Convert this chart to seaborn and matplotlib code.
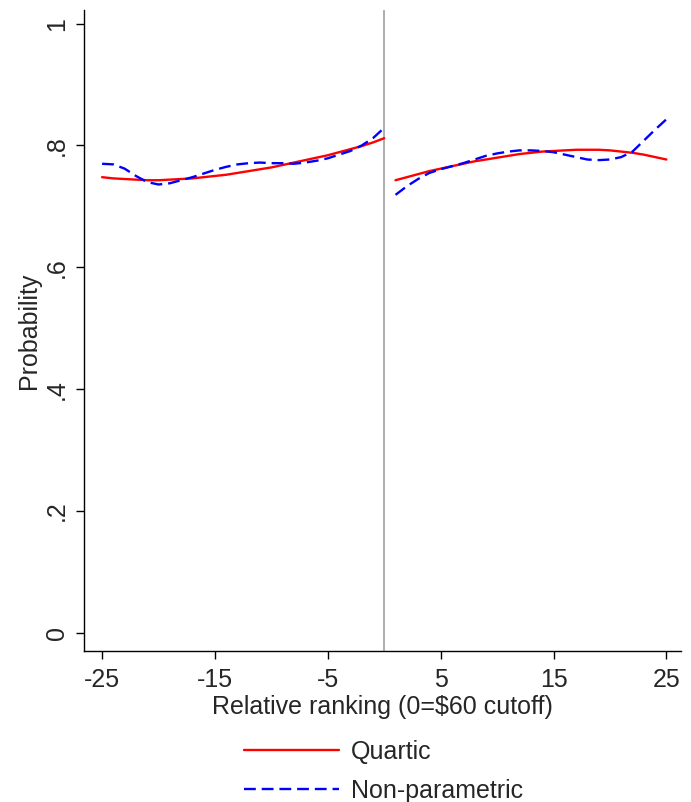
import numpy as np
import pandas as pd
import seaborn as sns
import matplotlib.pyplot as plt
from matplotlib.lines import Line2D

# relative ranking, left and right of the cutoff
rank_left = list(range(-25, 1))
rank_right = list(range(1, 26))

quartic_left = [0.748, 0.746, 0.745, 0.744, 0.743, 0.743, 0.744, 0.745, 0.746, 0.748,
                0.750, 0.752, 0.755, 0.758, 0.761, 0.764, 0.768, 0.772, 0.776, 0.780,
                0.784, 0.789, 0.794, 0.799, 0.805, 0.812]
nonpar_left = [0.770, 0.769, 0.762, 0.750, 0.740, 0.736, 0.738, 0.743, 0.748, 0.754,
               0.760, 0.765, 0.769, 0.771, 0.772, 0.771, 0.771, 0.770, 0.772, 0.775,
               0.779, 0.785, 0.791, 0.800, 0.812, 0.829]
quartic_right = [0.743, 0.748, 0.753, 0.758, 0.762, 0.766, 0.770, 0.774, 0.777, 0.780,
                 0.783, 0.786, 0.788, 0.790, 0.791, 0.792, 0.793, 0.793, 0.793, 0.792,
                 0.790, 0.788, 0.785, 0.781, 0.777]
nonpar_right = [0.719, 0.733, 0.745, 0.755, 0.761, 0.766, 0.771, 0.777, 0.783, 0.787,
                0.790, 0.792, 0.792, 0.791, 0.789, 0.785, 0.781, 0.777, 0.776, 0.777,
                0.781, 0.790, 0.808, 0.826, 0.843]

x_ticks = [-25, -15, -5, 5, 15, 25]
y_ticks = [0, 0.2, 0.4, 0.6, 0.8, 1.0]
y_ticklabels = ['0', '.2', '.4', '.6', '.8', '1']

sns.set_style("ticks")
plt.rcParams['font.family'] = ['Liberation Sans', 'DejaVu Sans']
plt.rcParams['axes.unicode_minus'] = False

fig = plt.figure(figsize=(6.91, 8.02), dpi=100)
ax = fig.add_axes([0.1216, 0.188, 0.864, 0.80])

red = '#ff0000'
blue = '#0000ff'
dash = (5, 2.5)
fs = 18

for xs, q, n in [(rank_left, quartic_left, nonpar_left),
                 (rank_right, quartic_right, nonpar_right)]:
    df = pd.DataFrame({'rank': xs, 'quartic': q, 'nonpar': n})
    sns.lineplot(data=df, x='rank', y='quartic', ax=ax, color=red, lw=1.7)
    sns.lineplot(data=df, x='rank', y='nonpar', ax=ax, color=blue, lw=1.7,
                 dashes=False).lines[-1].set_dashes(dash)

ax.axvline(0, color='#a8a8a8', lw=1.3, zorder=0)

ax.set_xlim(-26.6, 26.3)
ax.set_ylim(-0.03, 1.023)
ax.set_xticks(x_ticks)
ax.set_yticks(y_ticks)
ax.set_yticklabels(y_ticklabels, rotation=90, va='center')
ax.tick_params(axis='both', labelsize=fs, length=6, width=1, color='black')
ax.tick_params(axis='x', pad=6)
ax.tick_params(axis='y', pad=5)
ax.set_xlabel('Relative ranking (0=$60 cutoff)', fontsize=fs, labelpad=2)
ax.set_ylabel('Probability', fontsize=fs, labelpad=3)
sns.despine(ax=ax)
for sp in ['left', 'bottom']:
    ax.spines[sp].set_color('black')
    ax.spines[sp].set_linewidth(1)

handles = [Line2D([], [], color=red, lw=1.7),
           Line2D([], [], color=blue, lw=1.7, dashes=dash)]
fig.legend(handles, ['Quartic', 'Non-parametric'], loc='upper left',
           bbox_to_anchor=(0.338, 0.090), frameon=False, fontsize=fs,
           handlelength=3.8, labelspacing=0.6, handletextpad=0.5, borderaxespad=0)

fig.savefig('out.png', dpi=100, facecolor='white')
